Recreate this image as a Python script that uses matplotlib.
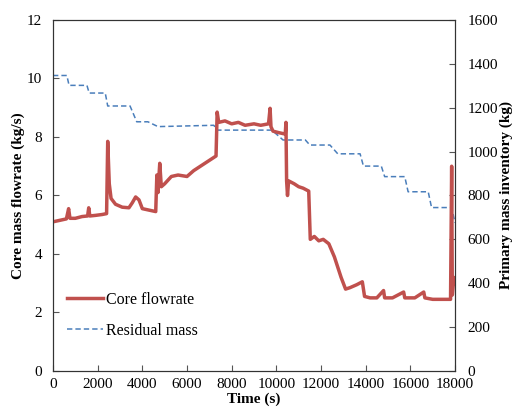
import matplotlib
matplotlib.use('Agg')
import matplotlib.pyplot as plt

# core flowrate (kg/s)
t_flow = [0, 300, 600, 700, 760, 1000, 1300, 1550, 1600, 1650, 1900, 2200, 2400,
          2450, 2520, 2600, 2800, 3100, 3400, 3550, 3700, 3850, 4000, 4300, 4600,
          4650, 4700, 4780, 4850, 5000, 5300, 5600, 6000, 6300, 6600, 6900, 7200,
          7300, 7350, 7420, 7700, 8000, 8300, 8600, 9000, 9300, 9650, 9720, 9760,
          9850, 10100, 10400, 10430, 10460, 10500, 10550, 10800, 11000, 11200,
          11450, 11520, 11700, 11900, 12100, 12350, 12600, 12900, 13100, 13300,
          13600, 13850, 13950, 14200, 14500, 14800, 14850, 15200, 15700, 15750,
          16200, 16600, 16650, 17000, 17500, 17800, 17850, 17880, 17950, 18000]
flow = [5.10, 5.15, 5.20, 5.55, 5.22, 5.22, 5.28, 5.30, 5.58, 5.30, 5.32, 5.35, 5.38,
        7.85, 6.40, 5.90, 5.70, 5.60, 5.58, 5.75, 5.95, 5.85, 5.55, 5.50, 5.45,
        6.70, 6.10, 7.10, 6.30, 6.40, 6.65, 6.70, 6.65, 6.85, 7.00, 7.15, 7.30,
        7.35, 8.85, 8.50, 8.55, 8.45, 8.50, 8.40, 8.45, 8.40, 8.45, 8.98, 8.35,
        8.20, 8.15, 8.10, 8.50, 6.50, 6.00, 6.50, 6.40, 6.30, 6.25,
        6.15, 4.50, 4.60, 4.45, 4.50, 4.35, 3.90, 3.20, 2.80, 2.85,
        2.95, 3.05, 2.55, 2.50, 2.50, 2.75, 2.50, 2.50, 2.70, 2.50,
        2.50, 2.70, 2.50, 2.45, 2.45, 2.45, 7.00, 2.60, 3.20, 3.00]

# residual mass (kg)
t_mass = [0, 620, 720, 1520, 1620, 2340, 2450, 3450, 3750, 4250, 4700, 7200, 7350,
          9800, 10300, 11300, 11500, 12400, 12750, 13750, 13900, 14700, 14850,
          15750, 15900, 16800, 16950, 17850, 18000]
mass = [1347, 1347, 1302, 1302, 1267, 1267, 1208, 1208, 1136, 1136, 1114, 1120, 1098,
        1098, 1053, 1053, 1030, 1030, 990, 990, 934, 934, 886,
        886, 817, 817, 745, 745, 675]

plt.rcParams['font.family'] = ['Liberation Serif', 'DejaVu Serif']

fig = plt.figure(figsize=(5.18, 4.13), dpi=100)
ax = fig.add_axes([0.1023, 0.1017, 0.7761, 0.8499])
ax2 = ax.twinx()
ax.set_zorder(ax2.get_zorder() + 1)
ax.patch.set_visible(False)

l1, = ax.plot(t_flow, flow, color='#C0504D', lw=2.5, label='Core flowrate')
l2, = ax2.plot(t_mass, mass, color='#4A7EBB', lw=1.1, dashes=(3.5, 2),
               label='Residual mass')

ax.set_xlim(0, 18000)
ax.set_ylim(0, 12)
ax2.set_ylim(0, 1600)
ax.set_xticks(range(0, 18001, 2000))
ax.set_yticks(range(0, 13, 2))
ax2.set_yticks(range(0, 1601, 200))

for a in (ax, ax2):
    a.tick_params(direction='in', labelsize=11, length=4, color='#555555')
    for s in a.spines.values():
        s.set_color('#333333')
ax.tick_params(axis='y', pad=8)
ax.tick_params(axis='x', pad=5)
ax2.tick_params(axis='y', pad=9)

ax.set_xlabel('Time (s)', fontsize=11, fontweight='bold', labelpad=1)
ax.set_ylabel('Core mass flowrate (kg/s)', fontsize=11, fontweight='bold', labelpad=1)
ax2.set_ylabel('Primary mass inventory (kg)', fontsize=11, fontweight='bold', labelpad=1)

ax.legend([l1, l2], ['Core flowrate', 'Residual mass'], loc='lower left',
          bbox_to_anchor=(0.0, 0.05), frameon=False, fontsize=11.5,
          handlelength=2.2, handletextpad=0.2, labelspacing=0.95)

fig.savefig('out.png', dpi=100)
